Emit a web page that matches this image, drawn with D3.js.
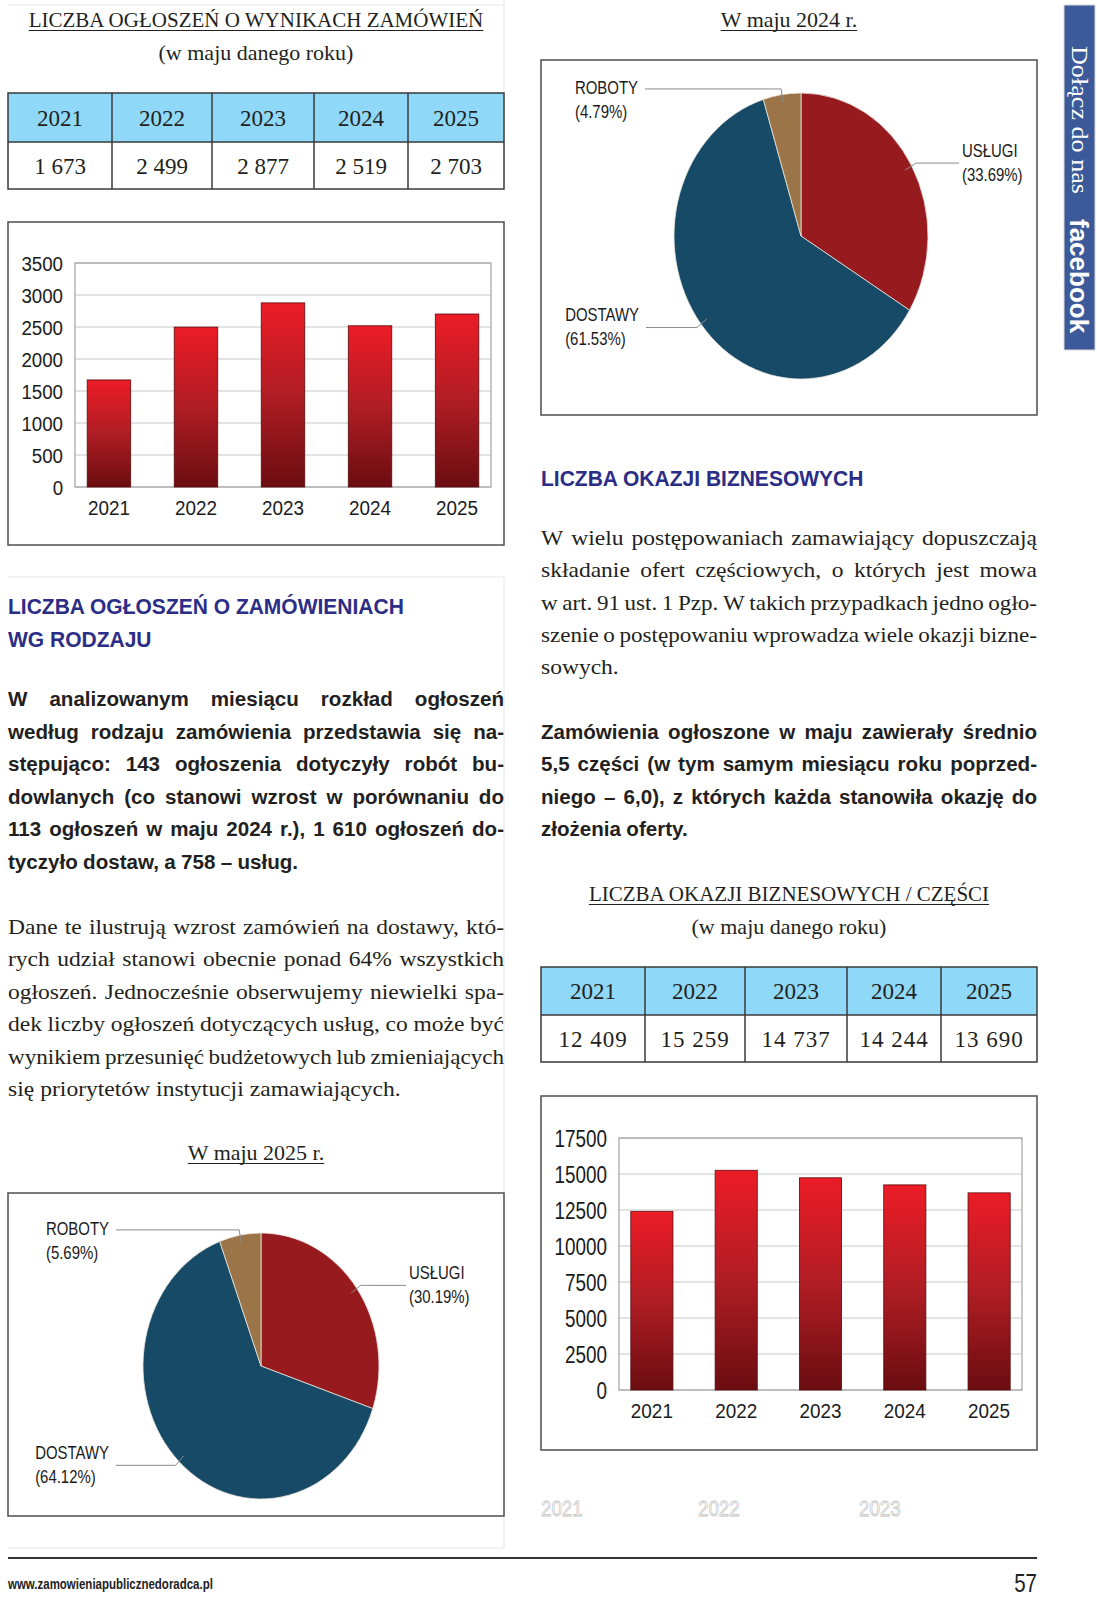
<!DOCTYPE html>
<html>
<head>
<meta charset="utf-8">
<script src="https://cdn.jsdelivr.net/npm/d3@7"></script>
<style>
body { margin: 0; background: #fff; }
svg { display: block; }
.serif { font-family: "Liberation Serif", "Times New Roman", serif; fill: #231f20; }
.sans { font-family: "Liberation Sans", Arial, sans-serif; fill: #1a1a1a; }
.bold { font-weight: bold; fill: #231f20; }
.head { font-family: "Liberation Sans", Arial, sans-serif; font-weight: bold; fill: #2b2d86; font-size: 22px; }
</style>
</head>
<body>
<svg id="page" width="1097" height="1600"></svg>
<script>
// --- data ---
var years = ["2021", "2022", "2023", "2024", "2025"];
var resultNotices = [1673, 2499, 2877, 2519, 2703];
var resultTicks = [0, 500, 1000, 1500, 2000, 2500, 3000, 3500];
var businessParts = [12409, 15259, 14737, 14244, 13690];
var partsTicks = [0, 2500, 5000, 7500, 10000, 12500, 15000, 17500];

var pieCategories = ["USŁUGI", "DOSTAWY", "ROBOTY"];
var share2024 = [33.69, 61.53, 4.79];
var share2025 = [30.19, 64.12, 5.69];
var pieColors = ["#971a1f", "#164a66", "#9b7447"];

var ghostYears = ["2021", "2022", "2023"];

var boldLeft = [
  "W analizowanym miesiącu rozkład ogłoszeń",
  "według rodzaju zamówienia przedstawia się na-",
  "stępująco: 143 ogłoszenia dotyczyły robót bu-",
  "dowlanych (co stanowi wzrost w porównaniu do",
  "113 ogłoszeń w maju 2024 r.), 1 610 ogłoszeń do-",
  "tyczyło dostaw, a 758 – usług."
];
var serifLeft = [
  "Dane te ilustrują wzrost zamówień na dostawy, któ-",
  "rych udział stanowi obecnie ponad 64% wszystkich",
  "ogłoszeń. Jednocześnie obserwujemy niewielki spa-",
  "dek liczby ogłoszeń dotyczących usług, co może być",
  "wynikiem przesunięć budżetowych lub zmieniających",
  "się priorytetów instytucji zamawiających."
];
var serifRight = [
  "W wielu postępowaniach zamawiający dopuszczają",
  "składanie ofert częściowych, o których jest mowa",
  "w art. 91 ust. 1 Pzp. W takich przypadkach jedno ogło-",
  "szenie o postępowaniu wprowadza wiele okazji bizne-",
  "sowych."
];
var boldRight = [
  "Zamówienia ogłoszone w maju zawierały średnio",
  "5,5 części (w tym samym miesiącu roku poprzed-",
  "niego – 6,0), z których każda stanowiła okazję do",
  "złożenia oferty."
];

var svg = d3.select("#page");
var fmtNum = d3.formatLocale({ decimal: ",", thousands: " ", grouping: [3], currency: ["", ""] }).format(",d");
var fmtPct = d3.format(".2f");

var defs = svg.append("defs");
var grad = defs.append("linearGradient").attr("id", "barGrad")
    .attr("x1", 0).attr("y1", 0).attr("x2", 0).attr("y2", 1);
grad.append("stop").attr("offset", "0%").attr("stop-color", "#ec1c26");
grad.append("stop").attr("offset", "50%").attr("stop-color", "#b01d24");
grad.append("stop").attr("offset", "100%").attr("stop-color", "#6a0d11");

// faint page frame lines
var faint = "#e6e6e6";
[[8, 5, 504, 5], [504, 0, 504, 93], [8, 577, 504, 577], [504, 577, 504, 1548], [8, 1548, 504, 1548]].forEach(function(l) {
  svg.append("line").attr("x1", l[0]).attr("y1", l[1]).attr("x2", l[2]).attr("y2", l[3])
      .attr("stroke", faint).attr("stroke-width", 1);
});

// underlined serif title
function title(text, cx, base, size, underline) {
  var t = svg.append("text").attr("class", "serif").attr("x", cx).attr("y", base)
      .attr("text-anchor", "middle").style("font-size", size + "px").text(text);
  if (underline) {
    var w = t.node().getComputedTextLength();
    svg.append("line").attr("x1", cx - w / 2).attr("x2", cx + w / 2)
        .attr("y1", base + 3.5).attr("y2", base + 3.5)
        .attr("stroke", "#231f20").attr("stroke-width", 1);
  }
}

function heading(text, x, base) {
  svg.append("text").attr("class", "head")
      .attr("transform", "translate(" + x + "," + base + ") scale(0.955,1)")
      .text(text);
}

// justified paragraph, one svg text per line
function para(lines, x, y0, lh, width, cls, size, sx) {
  var g = svg.append("g").attr("transform", "translate(" + x + ",0) scale(" + sx + ",1)");
  var W = width / sx;
  lines.forEach(function(line, i) {
    var words = line.split(" ");
    var t = g.append("text").attr("class", cls).attr("y", y0 + i * lh).style("font-size", size + "px");
    var spans = words.map(function(w) { return t.append("tspan").text(w); });
    var widths = spans.map(function(s) { return s.node().getComputedTextLength(); });
    var sum = d3.sum(widths);
    var last = i === lines.length - 1;
    var gap = last ? size * 0.26 : (W - sum) / (words.length - 1);
    var minGap = size * 0.2;
    if (gap < minGap) {
      var k = W / (sum + minGap * (words.length - 1));
      t.attr("transform", "scale(" + k + ",1)");
      gap = minGap;
    }
    var cx = 0;
    spans.forEach(function(s, j) { s.attr("x", cx); cx += widths[j] + gap; });
  });
}

function table(edges, top, mid, bottom, values) {
  var g = svg.append("g");
  g.append("rect").attr("x", edges[0]).attr("y", top)
      .attr("width", edges[edges.length - 1] - edges[0]).attr("height", mid - top)
      .attr("fill", "#8fd8f8");
  g.append("rect").attr("x", edges[0]).attr("y", top)
      .attr("width", edges[edges.length - 1] - edges[0]).attr("height", bottom - top)
      .attr("fill", "none").attr("stroke", "#3a3a3a").attr("stroke-width", 1.5);
  g.append("line").attr("x1", edges[0]).attr("x2", edges[edges.length - 1])
      .attr("y1", mid).attr("y2", mid).attr("stroke", "#3a3a3a").attr("stroke-width", 1.5);
  edges.slice(1, -1).forEach(function(e) {
    g.append("line").attr("x1", e).attr("x2", e).attr("y1", top).attr("y2", bottom)
        .attr("stroke", "#3a3a3a").attr("stroke-width", 1.5);
  });
  years.forEach(function(yr, i) {
    var cx = (edges[i] + edges[i + 1]) / 2;
    g.append("text").attr("class", "serif").attr("x", cx).attr("y", (top + mid) / 2 + 8)
        .attr("text-anchor", "middle").style("font-size", "23px").text(yr);
    g.append("text").attr("class", "serif").attr("x", cx).attr("y", (mid + bottom) / 2 + 8)
        .attr("text-anchor", "middle").style("font-size", "23px")
        .style("letter-spacing", values[i] > 9999 ? "1px" : "0px").text(fmtNum(values[i]));
  });
}

function barChart(box, plot, values, ticks, ySize, ySx) {
  svg.append("rect").attr("x", box.x).attr("y", box.y).attr("width", box.w).attr("height", box.h)
      .attr("fill", "#fff").attr("stroke", "#4d4d4d").attr("stroke-width", 1.5);
  var x = d3.scaleBand().domain(years).range([plot.l, plot.r]).paddingInner(0.5).paddingOuter(0.14);
  var y = d3.scaleLinear().domain([0, d3.max(ticks)]).range([plot.b, plot.t]);
  var g = svg.append("g");
  g.selectAll(".grid").data(ticks).join("line")
      .attr("x1", plot.l).attr("x2", plot.r)
      .attr("y1", function(d) { return y(d); }).attr("y2", function(d) { return y(d); })
      .attr("stroke", "#c8c8c8").attr("stroke-width", 1.2);
  g.append("rect").attr("x", plot.l).attr("y", plot.t).attr("width", plot.r - plot.l).attr("height", plot.b - plot.t)
      .attr("fill", "none").attr("stroke", "#a3a3a3").attr("stroke-width", 1.2);
  g.selectAll(".bar").data(values).join("rect")
      .attr("x", function(d, i) { return x(years[i]); })
      .attr("y", function(d) { return y(d); })
      .attr("width", x.bandwidth())
      .attr("height", function(d) { return y(0) - y(d); })
      .attr("fill", "url(#barGrad)").attr("stroke", "#5a0c0f").attr("stroke-width", 0.8);

  var ya = g.append("g").attr("transform", "translate(" + plot.l + ",0)")
      .call(d3.axisLeft(y).tickValues(ticks).tickSize(0).tickFormat(d3.format("d")));
  ya.select(".domain").remove();
  ya.selectAll("text").attr("class", "sans").style("font-size", ySize + "px")
      .attr("x", -12 / ySx).attr("dy", "0.36em").attr("transform", "scale(" + ySx + ",1)")
      .attr("font-family", null);

  var xa = g.append("g").attr("transform", "translate(0," + plot.b + ")")
      .call(d3.axisBottom(x).tickSize(0));
  xa.select(".domain").remove();
  xa.selectAll("text").attr("class", "sans").style("font-size", "21px")
      .attr("y", 13).attr("transform", "scale(0.9,1)").attr("font-family", null);
}

function pieChart(box, cx, cy, r, sy, shares, lineX) {
  svg.append("rect").attr("x", box.x).attr("y", box.y).attr("width", box.w).attr("height", box.h)
      .attr("fill", "#fff").attr("stroke", "#4d4d4d").attr("stroke-width", 1.5);
  var data = pieCategories.map(function(c, i) { return { name: c, v: shares[i], color: pieColors[i] }; });
  var arcs = d3.pie().sort(null).value(function(d) { return d.v; })(data);
  var arc = d3.arc().innerRadius(0).outerRadius(r);
  var g = svg.append("g").attr("transform", "translate(" + cx + "," + cy + ") scale(1," + sy + ")");
  g.selectAll("path").data(arcs).join("path")
      .attr("d", arc).attr("fill", function(d) { return d.data.color; })
      .attr("stroke", "#e9e4dc").attr("stroke-width", 0.8).attr("vector-effect", "non-scaling-stroke");

  function pt(a, k) {
    var m = (a.startAngle + a.endAngle) / 2;
    return [cx + r * k * Math.sin(m), cy - r * k * sy * Math.cos(m)];
  }
  var sx = 0.83;
  arcs.forEach(function(a, i) {
    var inner = pt(a, 0.94), knee = pt(a, 1.04);
    var endX = box.x + lineX[i];
    svg.append("polyline")
        .attr("points", [inner, knee, [endX, knee[1]]].map(function(p) { return p.join(","); }).join(" "))
        .attr("fill", "none").attr("stroke", "#8a8a8a").attr("stroke-width", 1);
    var firstY = knee[1] + (a.data.name === "ROBOTY" ? -1 : -13);
    var lt = svg.append("g");
    var t1 = lt.append("text").attr("class", "sans").style("font-size", "18px").text(a.data.name);
    lt.append("text").attr("class", "sans").style("font-size", "18px").attr("y", 24)
        .text("(" + fmtPct(a.data.v) + "%)");
    var w = t1.node().getComputedTextLength() * sx;
    var tx = endX > knee[0] ? endX + 3 : endX - 7 - w;
    lt.attr("transform", "translate(" + tx + "," + (firstY + 6.5) + ") scale(" + sx + ",1)");
  });
}

// --- left column ---
title("LICZBA OGŁOSZEŃ O WYNIKACH ZAMÓWIEŃ", 256, 27, 21, true);
title("(w maju danego roku)", 256, 60, 22, false);
table([8, 112, 212, 314, 408, 504], 93, 142, 189, resultNotices);
barChart({ x: 8, y: 222, w: 496, h: 323 }, { l: 75, t: 263, r: 491, b: 487 }, resultNotices, resultTicks, 21, 0.89);

heading("LICZBA OGŁOSZEŃ O ZAMÓWIENIACH", 8, 614);
heading("WG RODZAJU", 8, 647);
para(boldLeft, 8, 706, 32.6, 496, "sans bold", 21, 0.98);
para(serifLeft, 8, 934, 32.4, 496, "serif", 22, 1.07);

title("W maju 2025 r.", 256, 1160, 22, true);
pieChart({ x: 8, y: 1193, w: 496, h: 323 }, 261, 1366, 118, 1.127, share2025, [398, 108, 108]);

// --- right column ---
title("W maju 2024 r.", 789, 27, 22, true);
pieChart({ x: 541, y: 60, w: 496, h: 355 }, 801, 236, 127, 1.126, share2024, [418, 105, 104]);

heading("LICZBA OKAZJI BIZNESOWYCH", 541, 486);
para(serifRight, 541, 545, 32.3, 496, "serif", 22, 1.07);
para(boldRight, 541, 739, 32.4, 496, "sans bold", 21, 0.98);

title("LICZBA OKAZJI BIZNESOWYCH / CZĘŚCI", 789, 901, 21, true);
title("(w maju danego roku)", 789, 934, 22, false);
table([541, 645, 745, 847, 941, 1037], 967, 1015, 1062, businessParts);
barChart({ x: 541, y: 1096, w: 496, h: 354 }, { l: 619, t: 1138, r: 1022, b: 1390 }, businessParts, partsTicks, 23, 0.82);

// ghost year labels
var ghostX = [541, 698, 859];
ghostYears.forEach(function(yr, i) {
  svg.append("text").attr("class", "sans")
      .attr("transform", "translate(" + ghostX[i] + ",1516) scale(0.85,1)")
      .style("font-size", "22px").style("fill", "#fff").style("stroke", "#c4c4c4").style("stroke-width", 0.8)
      .text(yr);
});

// facebook strip
svg.append("rect").attr("x", 1064).attr("y", 5).attr("width", 31).attr("height", 345)
    .attr("fill", "#3c5a99").attr("stroke", "#d9d9d9").attr("stroke-width", 1);
svg.append("text").attr("class", "serif").attr("transform", "translate(1072,46) rotate(90)")
    .style("font-size", "23px").style("fill", "#fff").attr("textLength", 148)
    .attr("lengthAdjust", "spacingAndGlyphs").text("Dołącz do nas");
svg.append("text").attr("class", "sans").attr("transform", "translate(1070,219) rotate(90)")
    .style("font-size", "26px").style("font-weight", "bold").style("fill", "#fff").text("facebook");

// footer
svg.append("line").attr("x1", 8).attr("x2", 1037).attr("y1", 1558).attr("y2", 1558)
    .attr("stroke", "#333").attr("stroke-width", 2);
svg.append("text").attr("class", "sans").attr("transform", "translate(8,1589) scale(0.82,1)")
    .style("font-size", "14px").style("font-weight", "bold").style("fill", "#222")
    .text("www.zamowieniapublicznedoradca.pl");
svg.append("text").attr("class", "sans").attr("transform", "translate(1037,1592) scale(0.82,1)")
    .attr("text-anchor", "end").style("font-size", "25px").style("fill", "#222").text("57");
</script>
</body>
</html>
